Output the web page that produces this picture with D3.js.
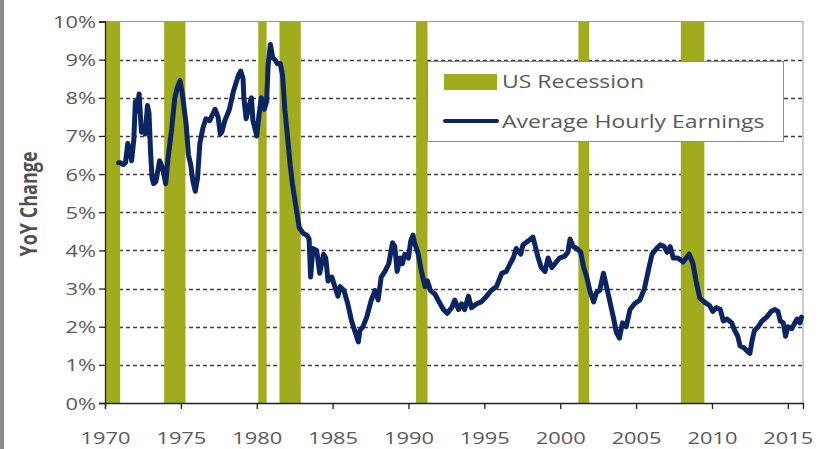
<!DOCTYPE html>
<html>
<head>
<meta charset="utf-8">
<script src="https://cdn.jsdelivr.net/npm/d3@7"></script>
<style>
  html, body { margin: 0; padding: 0; background: #fff; }
  svg { display: block; font-family: "Open Sans", sans-serif; }
</style>
</head>
<body>
<div id="chart"></div>
<script>
// YoY change of average hourly earnings
const years = [
  1970.9, 1971.0, 1971.2, 1971.35, 1971.5, 1971.65, 1971.75, 1971.9, 1972.0, 1972.1,
  1972.25, 1972.4, 1972.55, 1972.65, 1972.8, 1972.9, 1973.0, 1973.1, 1973.2, 1973.35,
  1973.6, 1973.8, 1974.0, 1974.15, 1974.4, 1974.6, 1974.75, 1974.95, 1975.1, 1975.35,
  1975.5, 1975.65, 1975.8, 1975.95, 1976.1, 1976.25, 1976.45, 1976.65, 1976.9, 1977.25,
  1977.45, 1977.6, 1977.7, 1977.9, 1978.2, 1978.45, 1978.8, 1978.95, 1979.1, 1979.15,
  1979.3, 1979.5, 1979.65, 1979.75, 1980.0, 1980.15, 1980.3, 1980.5, 1980.65, 1980.75,
  1980.9, 1981.05, 1981.2, 1981.35, 1981.55, 1981.7, 1981.85, 1982.0, 1982.2, 1982.35,
  1982.6, 1982.8, 1983.05, 1983.3, 1983.45, 1983.55, 1983.7, 1983.95, 1984.15, 1984.4,
  1984.55, 1984.7, 1984.95, 1985.15, 1985.35, 1985.5, 1985.75, 1986.0, 1986.25, 1986.45,
  1986.7, 1986.8, 1987.0, 1987.25, 1987.55, 1987.8, 1988.0, 1988.2, 1988.45, 1988.7,
  1988.95, 1989.1, 1989.25, 1989.45, 1989.6, 1989.75, 1990.0, 1990.15, 1990.3, 1990.4,
  1990.65, 1990.85, 1991.1, 1991.25, 1991.45, 1991.75, 1991.95, 1992.3, 1992.55, 1992.85,
  1993.05, 1993.3, 1993.5, 1993.7, 1993.95, 1994.15, 1994.5, 1994.8, 1995.15, 1995.45,
  1995.8, 1996.15, 1996.45, 1996.7, 1996.9, 1997.1, 1997.4, 1997.55, 1997.9, 1998.2,
  1998.3, 1998.55, 1998.75, 1999.0, 1999.2, 1999.45, 1999.65, 1999.95, 2000.3, 2000.5,
  2000.65, 2000.85, 2001.1, 2001.35, 2001.55, 2001.75, 2001.95, 2002.2, 2002.4, 2002.6,
  2002.85, 2003.05, 2003.25, 2003.5, 2003.7, 2003.9, 2004.1, 2004.35, 2004.6, 2004.9,
  2005.25, 2005.55, 2005.85, 2006.05, 2006.35, 2006.6, 2006.85, 2007.05, 2007.25, 2007.45,
  2007.75, 2008.1, 2008.3, 2008.5, 2008.75, 2008.95, 2009.2, 2009.5, 2009.85, 2010.05,
  2010.3, 2010.55, 2010.75, 2011.0, 2011.3, 2011.5, 2011.7, 2011.85, 2012.1, 2012.35,
  2012.5, 2012.65, 2012.8, 2013.05, 2013.3, 2013.6, 2013.9, 2014.15, 2014.35, 2014.5,
  2014.7, 2014.85, 2015.0, 2015.25, 2015.4, 2015.6, 2015.8, 2015.9
];
const earnings = [
  6.3, 6.3, 6.25, 6.3, 6.8, 6.6, 6.35, 6.9, 7.9, 7.65,
  8.1, 7.1, 7.2, 7.05, 7.8, 7.6, 6.6, 5.9, 5.75, 5.8,
  6.35, 6.15, 5.75, 6.4, 7.2, 8.0, 8.25, 8.45, 8.1, 7.3,
  6.5, 6.25, 5.8, 5.55, 5.9, 6.8, 7.2, 7.45, 7.4, 7.7,
  7.5, 7.05, 7.1, 7.4, 7.7, 8.15, 8.6, 8.7, 8.5, 8.0,
  7.45, 7.8, 8.0, 7.4, 7.0, 7.55, 8.0, 7.7, 7.9, 8.85,
  9.4, 9.05, 9.0, 8.9, 8.9, 8.6, 7.7, 7.1, 6.25, 5.75,
  5.1, 4.6, 4.45, 4.4, 4.3, 3.3, 4.05, 4.0, 3.4, 3.9,
  3.8, 3.2, 3.3, 3.05, 2.8, 3.05, 2.95, 2.6, 2.15, 1.9,
  1.6, 1.9, 2.0, 2.25, 2.7, 2.95, 2.7, 3.3, 3.45, 3.65,
  4.2, 4.1, 3.45, 3.8, 3.65, 3.9, 3.8, 4.25, 4.4, 4.2,
  3.9, 3.45, 3.05, 3.2, 2.95, 2.85, 2.7, 2.45, 2.35, 2.5,
  2.7, 2.45, 2.6, 2.45, 2.8, 2.5, 2.6, 2.65, 2.8, 2.95,
  3.05, 3.4, 3.45, 3.65, 3.8, 4.05, 3.9, 4.15, 4.25, 4.35,
  4.2, 3.8, 3.55, 3.45, 3.8, 3.55, 3.65, 3.8, 3.85, 3.95,
  4.3, 4.1, 4.05, 3.95, 3.55, 3.3, 2.95, 2.65, 2.9, 2.95,
  3.4, 3.05, 2.7, 2.25, 1.85, 1.7, 2.1, 2.0, 2.45, 2.6,
  2.7, 3.0, 3.55, 3.9, 4.05, 4.15, 4.1, 3.95, 4.1, 3.8,
  3.8, 3.7, 3.8, 3.9, 3.65, 3.2, 2.75, 2.65, 2.55, 2.4,
  2.5, 2.45, 2.15, 2.2, 2.1, 1.9, 1.75, 1.5, 1.45, 1.35,
  1.3, 1.65, 1.9, 2.0, 2.15, 2.25, 2.4, 2.45, 2.4, 2.15,
  2.1, 1.75, 2.0, 1.95, 2.05, 2.2, 2.1, 2.25
];

// US recessions (start / end, fractional years)
const recessionStart = [1969.9, 1973.9, 1980.1, 1981.5, 1990.5, 2001.2, 2007.95];
const recessionEnd   = [1971.0, 1975.3, 1980.65, 1982.9, 1991.25, 2001.9, 2009.5];

const xTicks = [1970, 1975, 1980, 1985, 1990, 1995, 2000, 2005, 2010, 2015];
const yTicks = [0, 1, 2, 3, 4, 5, 6, 7, 8, 9, 10];

const width = 819;
const height = 449;
const plot = {left: 105, right: 803, top: 21.5, bottom: 403};
const stretch = 1.3; // text in the reference is drawn wide
const textColor = "#595959";
const lineColor = "#0b2462";
const barColor = "#a0ab1e";

const x = d3.scaleLinear().domain([1970, 2016]).range([plot.left, plot.right]);
const y = d3.scaleLinear().domain([0, 10]).range([plot.bottom, plot.top]);

const svg = d3.select("#chart").append("svg")
    .attr("width", width)
    .attr("height", height);

// grey strip on the left edge of the picture
svg.append("rect")
    .attr("x", 0).attr("y", 0)
    .attr("width", 4).attr("height", height)
    .attr("fill", "#8a8a8a");

// plot border (top / right)
svg.append("path")
    .attr("d", `M${plot.left},${plot.top}H${plot.right}V${plot.bottom}`)
    .attr("fill", "none")
    .attr("stroke", "#9a9a9a")
    .attr("stroke-width", 1);

// dashed gridlines
svg.append("g")
    .selectAll("line")
    .data(yTicks.filter(d => d > 0 && d < 10))
    .join("line")
    .attr("x1", plot.left)
    .attr("x2", plot.right)
    .attr("y1", d => Math.round(y(d)) + 0.5)
    .attr("y2", d => Math.round(y(d)) + 0.5)
    .attr("stroke", "#3f3f3f")
    .attr("stroke-width", 1.3)
    .attr("stroke-dasharray", "4,3");

// recession bars
const recessions = recessionStart.map((s, i) => ({start: Math.max(s, 1970), end: recessionEnd[i]}));
svg.append("g")
    .selectAll("rect")
    .data(recessions)
    .join("rect")
    .attr("x", d => x(d.start))
    .attr("width", d => x(d.end) - x(d.start))
    .attr("y", plot.top)
    .attr("height", plot.bottom - plot.top)
    .attr("fill", barColor);

// earnings line
const series = years.map((yr, i) => ({year: yr, value: earnings[i]}));
const line = d3.line()
    .x(d => x(d.year))
    .y(d => y(d.value));

svg.append("path")
    .datum(series)
    .attr("d", line)
    .attr("fill", "none")
    .attr("stroke", lineColor)
    .attr("stroke-width", 5)
    .attr("stroke-linejoin", "round")
    .attr("stroke-linecap", "round");

// y axis
const yAxis = svg.append("g")
    .attr("transform", `translate(${plot.left},0)`)
    .call(d3.axisLeft(y).tickValues(yTicks).tickSize(6).tickFormat(d => d + "%"));
yAxis.select(".domain").attr("stroke", "#222").attr("stroke-width", 1.3);
yAxis.selectAll(".tick line").attr("stroke", "#222").attr("stroke-width", 1.3);
yAxis.selectAll(".tick text")
    .attr("x", 0)
    .attr("dy", "0.36em")
    .attr("transform", `translate(-9,0) scale(${stretch},1)`)
    .attr("fill", textColor)
    .style("font-family", "'Open Sans', sans-serif")
    .style("font-size", "16.8px");

// x axis
const xAxis = svg.append("g")
    .attr("transform", `translate(0,${plot.bottom})`)
    .call(d3.axisBottom(x).tickValues(xTicks).tickSize(6).tickFormat(d3.format("d")));
xAxis.select(".domain").attr("stroke", "#222").attr("stroke-width", 1.3);
xAxis.selectAll(".tick line").attr("stroke", "#222").attr("stroke-width", 1.3);
xAxis.selectAll(".tick text")
    .attr("y", 0)
    .attr("dy", 0)
    .attr("transform", `translate(0,41) scale(${stretch},1)`)
    .attr("fill", textColor)
    .style("font-family", "'Open Sans', sans-serif")
    .style("font-size", "16.8px");

// y axis title
svg.append("text")
    .attr("transform", `translate(37,204) rotate(-90) scale(1,${stretch})`)
    .attr("text-anchor", "middle")
    .attr("fill", "#505050")
    .style("font-weight", "bold")
    .style("font-size", "18px")
    .text("YoY Change");

// legend
const legend = svg.append("g");
legend.append("rect")
    .attr("x", 427.5).attr("y", 61.5)
    .attr("width", 356).attr("height", 80)
    .attr("fill", "#fff")
    .attr("stroke", "#8c8c8c");
legend.append("rect")
    .attr("x", 444).attr("y", 74)
    .attr("width", 53).attr("height", 16)
    .attr("fill", barColor);
legend.append("line")
    .attr("x1", 445).attr("x2", 497)
    .attr("y1", 121).attr("y2", 121)
    .attr("stroke", lineColor)
    .attr("stroke-width", 4)
    .attr("stroke-linecap", "round");

const legendLabels = ["US Recession", "Average Hourly Earnings"];
legend.selectAll("text.lbl")
    .data(legendLabels)
    .join("text")
    .attr("class", "lbl")
    .attr("transform", (d, i) => `translate(502,${88 + i * 40}) scale(${stretch},1)`)
    .attr("fill", textColor)
    .style("font-size", "17.7px")
    .text(d => d);
</script>
</body>
</html>
